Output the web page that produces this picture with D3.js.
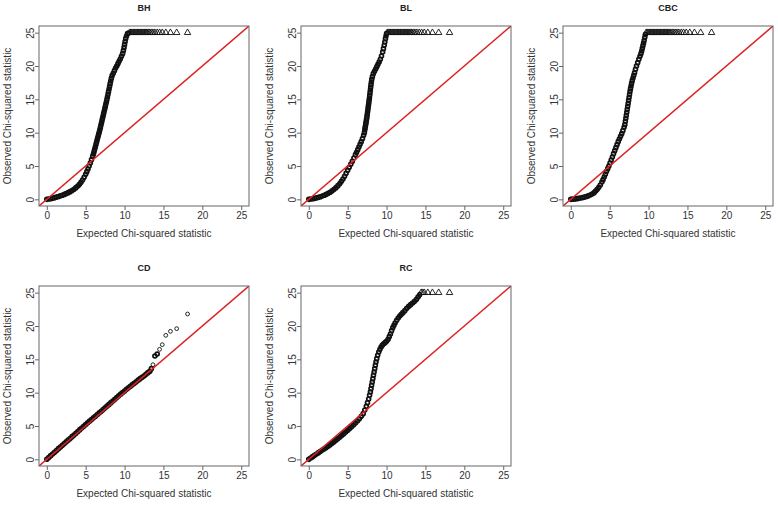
<!DOCTYPE html>
<html><head><meta charset="utf-8">
<script src="https://cdn.jsdelivr.net/npm/d3@7/dist/d3.min.js"></script>
<style>body{margin:0;background:#fff}svg{display:block}</style>
</head><body><svg id="c" width="778" height="505"></svg>
<script>
// ---------- data ----------
const panelTitles = ["BH", "BL", "CBC", "CD", "RC"];
const tickValues = [0, 5, 10, 15, 20, 25];
const axisDomain = [-1, 26];
const capValue = 25;           // observed values at/above this are drawn as triangles
const xTitle = "Expected Chi-squared statistic";
const yTitle = "Observed Chi-squared statistic";

const bhExp = [0,0.25,0.5,0.75,1,1.25,1.5,1.75,2,2.25,2.5,2.75,3,3.25,3.5,3.75,4,4.2,4.4,4.6,4.8,5,5.15,5.3,5.45,5.6,5.75,5.9,6.0,6.08,6.16,6.24,6.32,6.4,6.47,6.54,6.61,6.68,6.75,6.82,6.89,6.96,7.03,7.1,7.17,7.24,7.31,7.38,7.45,7.52,7.59,7.66,7.73,7.8,7.87,7.94,8.01,8.08,8.15,8.22,8.3,8.4,8.55,8.7,8.85,9.0,9.15,9.3,9.45,9.6,9.75,9.85,9.93,10.0,10.07,10.15,10.25,10.38,10.52];
const bhObs = [0,0.05,0.1,0.17,0.25,0.33,0.42,0.52,0.62,0.74,0.86,1.0,1.15,1.32,1.52,1.75,2.0,2.25,2.55,2.9,3.3,3.75,4.15,4.55,5.0,5.45,5.95,6.45,6.8,7.15,7.5,7.85,8.2,8.55,8.9,9.2,9.5,9.8,10.1,10.4,10.75,11.1,11.45,11.8,12.15,12.5,12.85,13.2,13.55,13.9,14.25,14.6,14.95,15.35,15.75,16.15,16.55,16.95,17.35,17.75,18.15,18.55,18.9,19.3,19.7,20.0,20.35,20.7,21.05,21.45,21.85,22.3,22.75,23.2,23.65,24.1,24.5,24.85,24.95];
const bhCapExp = [10.65,10.8,10.95,11.1,11.25,11.4,11.55,11.7,11.85,12.0,12.15,12.3,12.45,12.6,12.75,12.9,13.05,13.25,13.45,13.65,13.9,14.2,14.5,14.85,15.3,15.9,16.7,18.1];

const blExp = [0,0.25,0.5,0.75,1,1.25,1.5,1.75,2,2.25,2.5,2.75,3,3.25,3.5,3.75,4,4.2,4.4,4.6,4.8,5,5.2,5.4,5.6,5.8,6,6.15,6.3,6.45,6.6,6.75,6.9,7.05,7.15,7.2,7.24,7.28,7.32,7.36,7.4,7.44,7.48,7.52,7.56,7.6,7.64,7.68,7.72,7.76,7.8,7.84,7.88,7.92,7.96,8,8.05,8.1,8.18,8.3,8.45,8.6,8.75,8.9,9.05,9.2,9.35,9.5,9.6,9.7,9.78,9.86,9.93,10];
const blObs = [0,0.04,0.09,0.15,0.22,0.3,0.39,0.5,0.62,0.75,0.9,1.07,1.27,1.5,1.75,2.05,2.38,2.7,3.05,3.45,3.9,4.35,4.8,5.25,5.7,6.2,6.7,7.05,7.45,7.85,8.25,8.65,9.1,9.6,10.0,10.4,10.7,10.95,11.25,11.5,11.8,12.1,12.4,12.75,13.1,13.45,13.8,14.15,14.5,14.85,15.2,15.6,16.0,16.4,16.8,17.2,17.6,18.0,18.4,18.85,19.2,19.55,19.9,20.25,20.6,21.0,21.5,22.1,22.6,23.1,23.6,24.1,24.5,24.9];
const blCapExp = [10.1,10.25,10.4,10.55,10.7,10.85,11.0,11.15,11.3,11.45,11.6,11.75,11.9,12.05,12.2,12.35,12.5,12.65,12.8,12.95,13.1,13.25,13.45,13.65,13.9,14.2,14.5,14.85,15.3,15.9,16.7,18.1];

const cbcExp = [0,0.25,0.5,0.75,1,1.25,1.5,1.75,2,2.25,2.5,2.75,3,3.2,3.4,3.6,3.8,4.0,4.15,4.3,4.45,4.6,4.75,4.9,5.05,5.2,5.35,5.5,5.65,5.8,5.95,6.1,6.25,6.4,6.55,6.7,6.85,6.95,7.02,7.08,7.14,7.2,7.26,7.32,7.38,7.44,7.5,7.56,7.62,7.68,7.75,7.82,7.9,8.0,8.1,8.2,8.32,8.45,8.6,8.75,8.9,9.02,9.12,9.2,9.28,9.36,9.44,9.52,9.6];
const cbcObs = [0,0.03,0.06,0.1,0.15,0.2,0.26,0.33,0.42,0.52,0.64,0.8,1.0,1.25,1.5,1.8,2.15,2.6,2.95,3.35,3.75,4.2,4.6,5.0,5.45,5.9,6.35,6.85,7.3,7.75,8.2,8.65,9.05,9.45,9.85,10.3,10.8,11.2,11.7,12.15,12.6,13.05,13.5,13.95,14.4,14.85,15.3,15.75,16.2,16.6,17.0,17.4,17.8,18.2,18.6,19.0,19.5,20.0,20.5,21.0,21.45,21.85,22.25,22.65,23.05,23.45,23.85,24.3,24.75];
const cbcCapExp = [9.7,9.85,10.0,10.15,10.3,10.45,10.6,10.75,10.9,11.05,11.2,11.35,11.5,11.65,11.8,11.95,12.1,12.25,12.4,12.55,12.7,12.85,13.05,13.25,13.45,13.65,13.9,14.2,14.5,14.85,15.3,15.9,16.7,18.1];

const cdExp = [0,0.25,0.5,0.75,1,1.25,1.5,1.75,2,2.25,2.5,2.75,3,3.25,3.5,3.75,4,4.25,4.5,4.75,5,5.25,5.5,5.75,6,6.25,6.5,6.75,7,7.25,7.5,7.75,8,8.25,8.5,8.75,9,9.25,9.5,9.75,10,10.25,10.5,10.75,11,11.25,11.5,11.75,12,12.25,12.5,12.75,13,13.25,13.45,13.65,13.9,14.2,14.5,14.85,15.3,15.9,16.7,18.1];
const cdObs = [0.02,0.28,0.55,0.8,1.07,1.33,1.6,1.86,2.1,2.36,2.62,2.88,3.13,3.4,3.66,3.92,4.18,4.45,4.7,4.96,5.22,5.48,5.73,5.98,6.22,6.47,6.72,6.97,7.22,7.47,7.73,7.98,8.24,8.5,8.75,9.0,9.26,9.52,9.78,10.02,10.26,10.5,10.74,10.97,11.2,11.42,11.64,11.88,12.1,12.32,12.5,12.75,13.0,13.2,13.6,14.2,15.5,15.8,16.5,17.2,18.6,19.2,19.6,21.8];
const cdCapExp = [];

const rcExp = [0,0.25,0.5,0.75,1,1.25,1.5,1.75,2,2.25,2.5,2.75,3,3.25,3.5,3.75,4,4.25,4.5,4.75,5,5.25,5.5,5.75,6,6.25,6.5,6.75,7,7.2,7.4,7.55,7.7,7.82,7.92,8.0,8.08,8.16,8.24,8.32,8.4,8.48,8.56,8.64,8.74,8.86,9.0,9.15,9.3,9.45,9.6,9.8,10.0,10.2,10.35,10.5,10.65,10.8,10.95,11.1,11.3,11.5,11.7,11.9,12.1,12.35,12.6,12.85,13.1,13.35,13.6,13.85,14.05,14.25];
const rcObs = [0,0.2,0.4,0.6,0.8,1.0,1.2,1.4,1.58,1.78,1.98,2.2,2.42,2.65,2.88,3.12,3.36,3.6,3.85,4.1,4.36,4.62,4.88,5.15,5.45,5.75,6.08,6.45,6.85,7.4,7.95,8.5,9.05,9.6,10.1,10.6,11.1,11.6,12.1,12.6,13.1,13.6,14.1,14.6,15.1,15.6,16.1,16.5,16.85,17.1,17.3,17.5,17.7,18.0,18.4,18.8,19.3,19.75,20.1,20.45,20.85,21.2,21.5,21.75,22.0,22.3,22.65,22.95,23.2,23.45,23.7,24.0,24.35,24.7];
const rcCapExp = [14.45,14.65,14.85,15.3,15.9,16.7,18.1];

// ---------- drawing ----------
const panels = [
  {exp: bhExp, obs: bhObs, cap: bhCapExp},
  {exp: blExp, obs: blObs, cap: blCapExp},
  {exp: cbcExp, obs: cbcObs, cap: cbcCapExp},
  {exp: cdExp, obs: cdObs, cap: cdCapExp},
  {exp: rcExp, obs: rcObs, cap: rcCapExp}
].map((p, i) => Object.assign(p, {title: panelTitles[i]}));

const W = 210, H = 180;
const colLeft = [39, 301, 563];
const rowTop = [26, 286];
const font = "'Liberation Sans', Arial, Helvetica, sans-serif";
const textCol = "#333";
const boxCol = "#666";
const red = "#dc2323";

const svg = d3.select("#c");
svg.append("rect").attr("width", 778).attr("height", 505).attr("fill", "#fff");

panels.forEach((p, i) => {
  const left = colLeft[i % 3], top = rowTop[Math.floor(i / 3)];
  const x = d3.scaleLinear().domain(axisDomain).range([0, W]);
  const y = d3.scaleLinear().domain(axisDomain).range([H, 0]);
  const g = svg.append("g").attr("transform", `translate(${left},${top})`);

  const clipId = "clip" + i;
  g.append("clipPath").attr("id", clipId).append("rect").attr("width", W).attr("height", H);
  const plot = g.append("g").attr("clip-path", `url(#${clipId})`);

  // circles: where points pile up densely the overlapping rings look solid
  const pts = p.exp.map((e, k) => ({e, o: p.obs[k], px: x(e), py: y(p.obs[k])}));
  pts.forEach((d, k) => {
    const nb = [pts[k - 1], pts[k + 1]].filter(Boolean)
      .map(q => Math.hypot(q.px - d.px, q.py - d.py));
    d.dense = nb.length && Math.min(...nb) < 4;
  });
  plot.selectAll("circle.pt").data(pts).enter().append("circle")
    .attr("class", "pt")
    .attr("cx", d => d.px).attr("cy", d => d.py).attr("r", d => d.dense ? 1.95 : 1.9)
    .attr("fill", "none").attr("stroke", "#111")
    .attr("stroke-width", d => d.dense ? 1.7 : 0.9);

  // capped points (triangles)
  const tri = d3.symbol().type(d3.symbolTriangle).size(18);
  plot.selectAll("path.cap").data(p.cap).enter().append("path")
    .attr("class", "cap")
    .attr("d", tri)
    .attr("transform", d => `translate(${x(d)},${y(capValue)})`)
    .attr("fill", "none").attr("stroke", "#111").attr("stroke-width", 0.9);

  // reference line y = x
  plot.append("line")
    .attr("x1", x(axisDomain[0])).attr("y1", y(axisDomain[0]))
    .attr("x2", x(axisDomain[1])).attr("y2", y(axisDomain[1]))
    .attr("stroke", red).attr("stroke-width", 1.5);

  // box
  g.append("rect").attr("width", W).attr("height", H)
    .attr("fill", "none").attr("stroke", boxCol).attr("stroke-width", 1);

  // x axis
  const xa = g.append("g").attr("transform", `translate(0,${H})`)
    .call(d3.axisBottom(x).tickValues(tickValues).tickSize(4).tickPadding(2).tickFormat(d3.format("d")));
  xa.select(".domain").remove();
  xa.selectAll("line").attr("stroke", boxCol);
  xa.selectAll("text").attr("font-family", font).attr("font-size", 10).attr("fill", textCol);

  // y axis (labels rotated like R)
  const ya = g.append("g")
    .call(d3.axisLeft(y).tickValues(tickValues).tickSize(4).tickFormat(d3.format("d")));
  ya.select(".domain").remove();
  ya.selectAll("line").attr("stroke", boxCol);
  ya.selectAll("text")
    .attr("x", null).attr("dy", null)
    .attr("transform", "translate(-5.5,0) rotate(-90)")
    .attr("text-anchor", "middle")
    .attr("font-family", font).attr("font-size", 10).attr("fill", textCol);

  // titles
  g.append("text").attr("x", W / 2).attr("y", -15.5).attr("text-anchor", "middle")
    .attr("font-family", font).attr("font-size", 9).attr("font-weight", "bold").attr("fill", "#222")
    .text(p.title);
  g.append("text").attr("x", W / 2).attr("y", H + 30.5).attr("text-anchor", "middle")
    .attr("font-family", font).attr("font-size", 10).attr("fill", textCol)
    .text(xTitle);
  g.append("text").attr("transform", `translate(-28,${H / 2}) rotate(-90)`).attr("text-anchor", "middle")
    .attr("font-family", font).attr("font-size", 10).attr("fill", textCol)
    .text(yTitle);
});
</script>
</body></html>
